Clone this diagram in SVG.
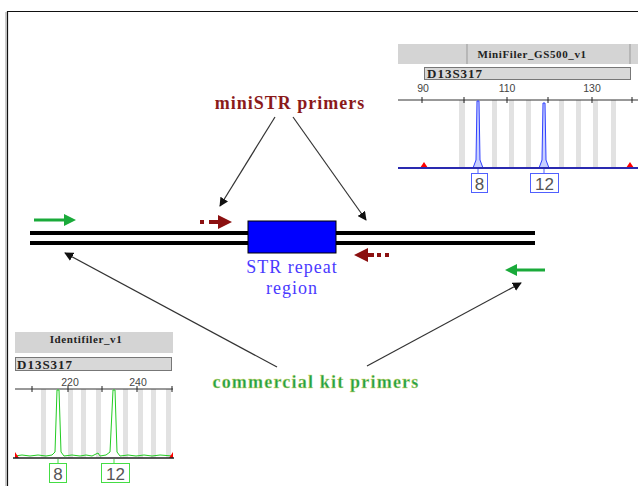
<svg xmlns="http://www.w3.org/2000/svg" width="638" height="486" viewBox="0 0 638 486">
<defs>
<style>
.title{font-family:"Liberation Serif",serif;font-weight:bold;font-size:11px;fill:#222;letter-spacing:0.6px}
.locus{font-family:"Liberation Serif",serif;font-weight:bold;font-size:13px;fill:#222;letter-spacing:1px}
.ax{font-family:"Liberation Sans",sans-serif;font-size:10.5px;fill:#444;text-anchor:middle}
.allele{font-family:"Liberation Sans",sans-serif;font-size:17px;fill:#555;text-anchor:middle}
.band{fill:#e2e2e2}
.tick{stroke:#222;stroke-width:1}
.ptr{stroke:#333;stroke-width:1.2;fill:none;marker-end:url(#ah)}
.big{font-family:"Liberation Serif",serif;font-weight:bold;font-size:18px;text-anchor:middle}
</style>
<marker id="ah" viewBox="0 0 10 10" refX="9" refY="5" markerWidth="9" markerHeight="9" markerUnits="userSpaceOnUse" orient="auto"><path d="M0,0 L10,5 L0,10 z" fill="#111"/></marker>
</defs>
<rect width="638" height="486" fill="#fff"/>
<path d="M7.5,486 V11.5 H638" fill="none" stroke="#111" stroke-width="1.2"/>
<line x1="6" y1="12" x2="6" y2="486" stroke="#999" stroke-width="1"/>

<g id="minifiler-panel">
<rect x="398" y="44" width="240" height="20" fill="#d4d4d4"/>
<line x1="467" y1="44" x2="467" y2="64" stroke="#999"/>
<line x1="630" y1="44" x2="630" y2="64" stroke="#999"/>
<text class="title" x="532" y="58" text-anchor="middle">MiniFiler_GS500_v1</text>
<rect x="424.5" y="67.5" width="206" height="12" fill="#d8d8d8" stroke="#777"/>
<text class="locus" x="427" y="78">D13S317</text>
<text class="ax" x="423" y="92">90</text>
<text class="ax" x="507" y="92">110</text>
<text class="ax" x="592" y="92">130</text>
<rect class="band" x="459" y="100" width="6" height="68"/>
<rect class="band" x="492" y="100" width="5" height="68"/>
<rect class="band" x="509" y="100" width="5" height="68"/>
<rect class="band" x="526" y="100" width="5" height="68"/>
<rect class="band" x="559" y="100" width="5" height="68"/>
<rect class="band" x="576" y="100" width="5" height="68"/>
<rect class="band" x="593" y="100" width="5" height="68"/>
<rect class="band" x="611" y="100" width="5" height="68"/>
<line x1="398" y1="100" x2="638" y2="100" stroke="#333"/>
<line class="tick" x1="422" y1="97" x2="422" y2="103"/>
<line class="tick" x1="464" y1="97" x2="464" y2="103"/>
<line class="tick" x1="507" y1="97" x2="507" y2="103"/>
<line class="tick" x1="548" y1="97" x2="548" y2="103"/>
<line class="tick" x1="592" y1="97" x2="592" y2="103"/>
<line class="tick" x1="632" y1="97" x2="632" y2="103"/>
<path d="M473,168 L476,160 L477,101 L479,101 L480,160 L483,168" fill="#c8d0ff" stroke="#3040ff" stroke-width="1"/>
<path d="M539,168 L542,160 L543,103 L545,103 L546,160 L549,168" fill="#c8d0ff" stroke="#3040ff" stroke-width="1"/>
<polygon points="420,168 424,162 428,168" fill="#ff0000"/>
<polygon points="626,168 630,162 634,168" fill="#ff0000"/>
<line x1="398" y1="168" x2="638" y2="168" stroke="#2a2ab0" stroke-width="2"/>
<line x1="478" y1="169" x2="478" y2="173" stroke="#5060ff"/>
<line x1="544" y1="169" x2="544" y2="173" stroke="#5060ff"/>
<rect x="471.5" y="173.5" width="16" height="19" fill="#fff" stroke="#5060ff"/>
<text class="allele" x="479.5" y="190">8</text>
<rect x="530.5" y="173.5" width="28" height="19" fill="#fff" stroke="#5060ff"/>
<text class="allele" x="544.5" y="190">12</text>
</g>

<g id="identifiler-panel">
<rect x="15" y="332" width="158" height="21" fill="#d4d4d4"/>
<text class="title" x="86" y="343" text-anchor="middle">Identifiler_v1</text>
<rect x="15.5" y="357.5" width="156" height="13" fill="#d8d8d8" stroke="#777"/>
<text class="locus" x="17" y="369">D13S317</text>
<text class="ax" x="70" y="386">220</text>
<text class="ax" x="138" y="386">240</text>
<rect class="band" x="41" y="389" width="5" height="69"/>
<rect class="band" x="68" y="389" width="5" height="69"/>
<rect class="band" x="81" y="389" width="5" height="69"/>
<rect class="band" x="96" y="389" width="5" height="69"/>
<rect class="band" x="123" y="389" width="5" height="69"/>
<rect class="band" x="138" y="389" width="5" height="69"/>
<rect class="band" x="151" y="389" width="5" height="69"/>
<rect class="band" x="166" y="389" width="5" height="69"/>
<line x1="15" y1="389" x2="173" y2="389" stroke="#333"/>
<line class="tick" x1="32" y1="386" x2="32" y2="392"/>
<line class="tick" x1="68" y1="386" x2="68" y2="392"/>
<line class="tick" x1="102" y1="386" x2="102" y2="392"/>
<line class="tick" x1="137" y1="386" x2="137" y2="392"/>
<line class="tick" x1="172" y1="386" x2="172" y2="392"/>
<path d="M15,456 L22,455 L30,456 L38,455 L46,456 L52,455 L55,452 L57,390 L59,390 L61,452 L64,456 L72,455 L80,456 L86,455 L92,456 L98,453 L100,456 L106,455 L110,452 L113,390 L115,390 L117,452 L120,456 L128,455 L136,456 L144,455 L152,456 L160,455 L173,456" fill="none" stroke="#22cc22" stroke-width="1"/>
<polygon points="15,458 15,452 19,458" fill="#ff0000"/>
<polygon points="169,458 173,452 173,458" fill="#ff0000"/>
<line x1="13" y1="458" x2="174" y2="458" stroke="#222" stroke-width="1.5"/>
<line x1="58" y1="459" x2="58" y2="463" stroke="#44dd44"/>
<line x1="114" y1="459" x2="114" y2="463" stroke="#44dd44"/>
<rect x="49.5" y="463.5" width="17" height="19" fill="#fff" stroke="#44dd44"/>
<text class="allele" x="58" y="480">8</text>
<rect x="101.5" y="463.5" width="28" height="19" fill="#fff" stroke="#44dd44"/>
<text class="allele" x="115.5" y="480">12</text>
</g>

<g id="dna">
<line x1="30" y1="233" x2="535" y2="233" stroke="#000" stroke-width="4"/>
<line x1="30" y1="243" x2="535" y2="243" stroke="#000" stroke-width="4"/>
<rect x="248" y="221" width="88" height="32" fill="#0000ff" stroke="#000" stroke-width="1"/>
<text x="292" y="273" font-family="Liberation Serif, serif" font-size="18" letter-spacing="1" fill="#4a3aff" text-anchor="middle">STR repeat</text>
<text x="292" y="294" font-family="Liberation Serif, serif" font-size="18" letter-spacing="1" fill="#4a3aff" text-anchor="middle">region</text>
</g>

<g id="primers">
<line x1="34" y1="220" x2="66" y2="220" stroke="#1aaa3a" stroke-width="3"/>
<polygon points="64,214 76,220 64,226" fill="#1aaa3a"/>
<line x1="545" y1="270" x2="515" y2="270" stroke="#1aaa3a" stroke-width="3"/>
<polygon points="517,264 505,270 517,276" fill="#1aaa3a"/>
<rect x="200" y="220" width="4" height="4" fill="#8b1010"/>
<line x1="209" y1="222" x2="222" y2="222" stroke="#8b1010" stroke-width="4"/>
<polygon points="218,215 232,222 218,229" fill="#8b1010"/>
<polygon points="368,248 354,255 368,262" fill="#8b1010"/>
<line x1="365" y1="255" x2="374" y2="255" stroke="#8b1010" stroke-width="4"/>
<rect x="377" y="253" width="4" height="4" fill="#8b1010"/>
<rect x="385" y="253" width="4" height="4" fill="#8b1010"/>
</g>

<g id="ministr-label">
<text class="big" x="290" y="109" fill="#8b1a1a" letter-spacing="1">miniSTR primers</text>
</g>
<g id="kit-label">
<text class="big" x="316" y="388" fill="#22a24a" letter-spacing="1.2" stroke="#e8e070" stroke-width="0.3">commercial kit primers</text>
</g>

<g id="connectors">
<line class="ptr" x1="275" y1="117" x2="220" y2="206"/>
<line class="ptr" x1="293" y1="117" x2="366" y2="220"/>
<line class="ptr" x1="277" y1="367" x2="65" y2="253"/>
<line class="ptr" x1="367" y1="366" x2="521" y2="283"/>
</g>
</svg>
